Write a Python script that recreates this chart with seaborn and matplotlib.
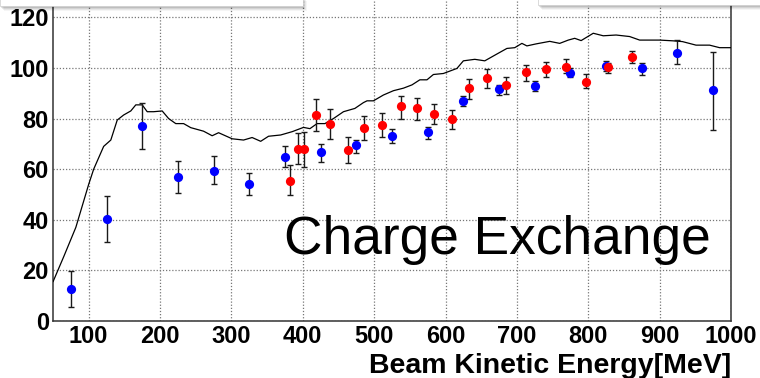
import matplotlib
matplotlib.use("Agg")
import matplotlib.pyplot as plt
from matplotlib.patches import Rectangle
from matplotlib.ticker import MultipleLocator
import numpy as np
import seaborn as sns

# blue data set (points every 50 MeV)
blue_x = [75, 125, 175, 225, 275, 325, 375, 425, 475, 525, 575, 625, 675, 725, 775, 825, 875, 925, 975]
blue_y = [12.5, 40.2, 77.2, 57, 59.3, 54, 64.8, 66.8, 69.4, 73.2, 74.7, 87.1, 91.6, 93, 98.1, 100.8, 99.9, 106, 91.2]
blue_lo = [5.4, 31.1, 67.9, 50.7, 54.3, 49.8, 61, 63, 66.3, 70.2, 71.8, 85, 89.3, 91, 96.3, 98.8, 97.1, 101.6, 75.4]
blue_hi = [19.9, 49.4, 86.3, 63.4, 65, 58.4, 69.2, 70, 71.5, 75.8, 76.8, 89, 93.3, 94.9, 99.9, 102.9, 102.1, 111, 106.4]

# red data set
red_x = [382, 393, 402, 418, 438, 463, 486, 511, 537, 560, 584, 609, 633, 658, 685, 713, 741, 769, 797, 827, 861]
red_y = [55.5, 68, 68, 81.3, 77.7, 67.5, 76.2, 77.3, 84.9, 84, 81.7, 79.8, 92, 96, 93.2, 98.3, 99.4, 100.5, 94.6, 100.5, 104.3]
red_lo = [49.8, 62, 60.7, 75, 72, 62.6, 71.5, 72.6, 80, 79.4, 77.7, 75.9, 87.7, 92.2, 89.6, 94.9, 96.3, 97.9, 92, 98.1, 101.9]
red_hi = [61.7, 74.2, 74.6, 87.7, 83.7, 72.8, 81.2, 82, 89, 88, 85.8, 83.3, 95.5, 99.5, 96.3, 101.2, 102.4, 103.4, 97.5, 101.9, 106.8]

# simulation curve
mc_x = [50, 65, 82, 100, 107, 121, 131, 140, 149, 159, 166, 175, 182, 191, 203, 212, 222, 233, 243,
        261, 273, 282, 301, 317, 329, 341, 352, 369, 385, 401, 410, 420, 431, 443, 457, 473, 485,
        490, 499, 513, 527, 541, 553, 564, 574, 583, 597, 616, 625, 641, 655, 672, 686, 697, 707,
        714, 727, 746, 760, 772, 781, 790, 807, 821, 839, 858, 872, 900, 919, 932, 951, 970, 984, 1000]
mc_y = [15.5, 25.4, 37, 54, 60, 69, 71.5, 79.4, 81.4, 83, 85.4, 85.4, 82.7, 82.7, 83, 80, 78, 78, 76.4,
        75, 73.2, 74.4, 72, 71.5, 72.5, 71, 73, 73.5, 74.8, 76.5, 76, 78, 78, 80, 82.7, 84, 86.3,
        87, 87, 89.3, 91, 92, 93.3, 95.3, 95.3, 97.4, 97.8, 99.8, 102.8, 103.4, 102.8, 105.5, 107.7, 108, 109.7,
        108.7, 109.5, 110.5, 109.7, 111, 111.7, 110.8, 113.7, 112.7, 113, 112.4, 111, 111, 110.7, 110.4, 109, 109, 108, 108]

sns.set_theme(style="white")
plt.rcParams["font.family"] = ["Liberation Sans", "DejaVu Sans"]

fig = plt.figure(figsize=(7.6, 3.78), dpi=100)
fig.patch.set_facecolor("white")
# axes: x 50..1000 over px 53..731, y 0..130 with zero at px 321 (top runs off the figure)
ax = fig.add_axes([53 / 760, 57 / 378, 678 / 760, 329 / 378])
ax.set_facecolor("white")

ax.grid(True, which="major", linestyle=(0, (1, 1.5)), color="#777777", linewidth=0.9)

sns.lineplot(x=mc_x, y=mc_y, ax=ax, color="black", linewidth=0.9, sort=False, zorder=3)


def draw_points(xs, ys, lo, hi, color):
    xs = np.array(xs)
    ys = np.array(ys)
    yerr = [ys - np.array(lo), np.array(hi) - ys]
    ax.errorbar(xs, ys, yerr=yerr, fmt="none", ecolor="#1a1a1a", elinewidth=1.0,
                capsize=2.3, capthick=1.0, zorder=4)
    sns.scatterplot(x=xs, y=ys, ax=ax, color=color, s=44, linewidth=0, zorder=5)


draw_points(blue_x, blue_y, blue_lo, blue_hi, "#0000ff")
draw_points(red_x, red_y, red_lo, red_hi, "#ff0000")

ax.set_xlim(50, 1000)
ax.set_ylim(0, 130)
ax.xaxis.set_major_locator(MultipleLocator(100))
ax.xaxis.set_minor_locator(MultipleLocator(20))
ax.yaxis.set_major_locator(MultipleLocator(20))
ax.yaxis.set_minor_locator(MultipleLocator(5))
ax.tick_params(axis="both", which="both", direction="in", top=False, right=False,
               colors="black", labelcolor="black")
ax.tick_params(axis="y", which="major", length=14, width=1.0, pad=3)
ax.tick_params(axis="y", which="minor", length=7.5, width=1.0)
ax.tick_params(axis="x", which="major", length=11, width=1.0, pad=3)
ax.tick_params(axis="x", which="minor", length=5.5, width=1.0)
for lab in ax.get_xticklabels() + ax.get_yticklabels():
    lab.set_fontsize(17)
    lab.set_fontweight("bold")
    lab.set_color("black")
ax.set_xlabel("")
ax.set_ylabel("")
for sp in ax.spines.values():
    sp.set_color("#333333")
    sp.set_linewidth(1.1)

ax.text(373, 26.5, "Charge Exchange", fontsize=38.3, va="baseline", ha="left", color="black", zorder=6)
fig.text(731 / 760, 5.3 / 378, "Beam Kinetic Energy[MeV]", fontsize=20.5, fontweight="bold",
         ha="right", va="baseline", color="black")

# white boxes cut off at the top edge, with a soft shadow
for x0, x1, ybot in [(0, 303, 372), (538, 760, 373)]:
    for k, a in enumerate([0.10, 0.08, 0.06, 0.04]):
        fig.patches.append(Rectangle(((x0 + 1 + k) / 760, (ybot - 2 - k) / 378), (x1 - x0) / 760, 10 / 378,
                                     transform=fig.transFigure, facecolor="black", alpha=a,
                                     edgecolor="none", zorder=10))
    fig.patches.append(Rectangle((x0 / 760, ybot / 378), (x1 - x0) / 760, 10 / 378,
                                 transform=fig.transFigure, facecolor="white",
                                 edgecolor="#cccccc", linewidth=0.5, zorder=11))

fig.savefig("out.png", dpi=100)
